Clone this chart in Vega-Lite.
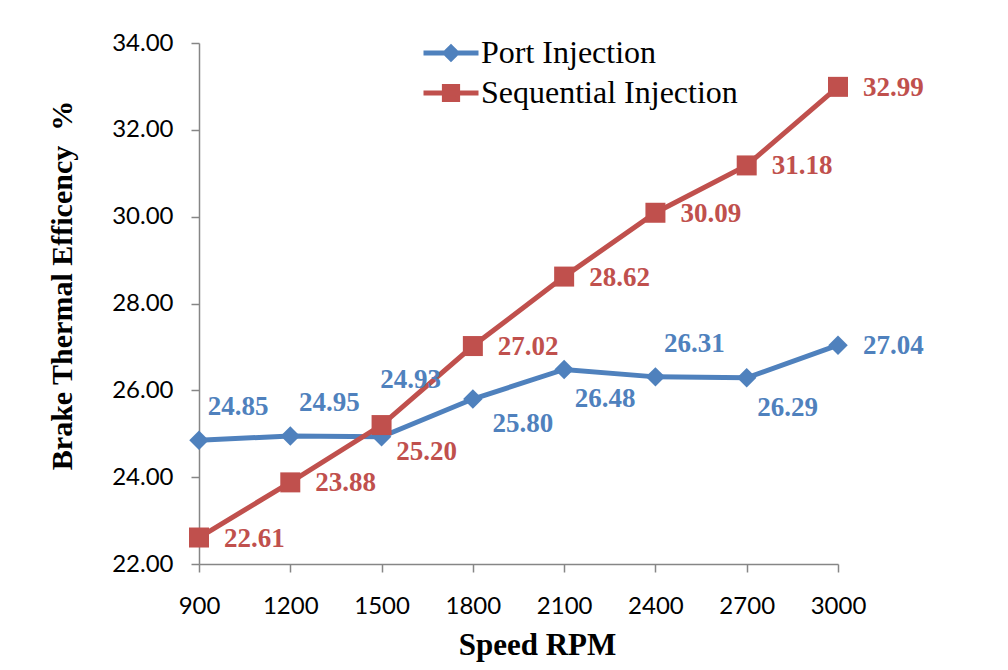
{
  "$schema": "https://vega.github.io/schema/vega-lite/v6.json",
  "width": 639,
  "height": 521,
  "autosize": {"type": "none"},
  "padding": {"left": 199, "top": 43, "right": 170, "bottom": 106},
  "background": "white",
  "config": {
    "view": {"stroke": null},
    "axis": {
      "domainColor": "#868686",
      "tickColor": "#868686",
      "domainWidth": 1.5,
      "tickWidth": 1.5,
      "tickSize": 8,
      "grid": false,
      "labelFont": "Lato",
      "labelFontSize": 24,
      "labelColor": "#000000",
      "labelFlush": false,
      "labelOverlap": false,
      "titleFont": "Liberation Serif",
      "titleFontWeight": "bold",
      "titleColor": "#000000"
    }
  },
  "data": {
    "values": [
      {"rpm": 900, "series": "Port Injection", "bte": 24.85},
      {"rpm": 1200, "series": "Port Injection", "bte": 24.95},
      {"rpm": 1500, "series": "Port Injection", "bte": 24.93},
      {"rpm": 1800, "series": "Port Injection", "bte": 25.80},
      {"rpm": 2100, "series": "Port Injection", "bte": 26.48},
      {"rpm": 2400, "series": "Port Injection", "bte": 26.31},
      {"rpm": 2700, "series": "Port Injection", "bte": 26.29},
      {"rpm": 3000, "series": "Port Injection", "bte": 27.04},
      {"rpm": 900, "series": "Sequential Injection", "bte": 22.61},
      {"rpm": 1200, "series": "Sequential Injection", "bte": 23.88},
      {"rpm": 1500, "series": "Sequential Injection", "bte": 25.20},
      {"rpm": 1800, "series": "Sequential Injection", "bte": 27.02},
      {"rpm": 2100, "series": "Sequential Injection", "bte": 28.62},
      {"rpm": 2400, "series": "Sequential Injection", "bte": 30.09},
      {"rpm": 2700, "series": "Sequential Injection", "bte": 31.18},
      {"rpm": 3000, "series": "Sequential Injection", "bte": 32.99}
    ]
  },
  "encoding": {
    "x": {
      "field": "rpm",
      "type": "quantitative",
      "scale": {"domain": [900, 3000], "nice": false, "zero": false},
      "axis": {
        "values": [900, 1200, 1500, 1800, 2100, 2400, 2700, 3000],
        "format": "d",
        "labelPadding": 22,
        "title": "Speed RPM",
        "titleFontSize": 31,
        "titleX": 338,
        "titleY": 81,
        "titleAnchor": null,
        "titleAlign": "center",
        "titleBaseline": "middle"
      }
    },
    "y": {
      "field": "bte",
      "type": "quantitative",
      "scale": {"domain": [22, 34], "nice": false, "zero": false},
      "axis": {
        "values": [22, 24, 26, 28, 30, 32, 34],
        "format": ".2f",
        "labelPadding": 18,
        "title": "Brake Thermal Efficency\u00a0 %",
        "titleFontSize": 30,
        "titleX": -137,
        "titleY": 242,
        "titleAngle": -90,
        "titleAlign": "center",
        "titleBaseline": "middle"
      }
    },
    "color": {
      "field": "series",
      "type": "nominal",
      "scale": {"domain": ["Port Injection", "Sequential Injection"], "range": ["#4F81BD", "#C0504D"]}
    }
  },
  "layer": [
    {
      "mark": {"type": "line", "strokeWidth": 5},
      "encoding": {
        "color": {
          "field": "series",
          "type": "nominal",
          "legend": {
            "orient": "none",
            "legendX": 236,
            "legendY": -6,
            "title": null,
            "padding": 0,
            "symbolSize": 400,
            "symbolStrokeWidth": 5,
            "labelFont": "Liberation Serif",
            "labelFontSize": 32,
            "labelColor": "#000000",
            "labelOffset": 14,
            "rowPadding": 7,
            "labelLimit": 400,
            "encode": {
              "symbols": {
                "update": {
                  "shape": {"signal": "datum.value === 'Port Injection' ? 'M-2.75,0H2.75M0,-0.58L0.58,0L0,0.58L-0.58,0Z' : 'M-2.75,0H2.75M-0.66,-0.66H0.66V0.66H-0.66Z'"},
                  "fill": {"signal": "scale('color', datum.value)"},
                  "stroke": {"signal": "scale('color', datum.value)"},
                  "strokeWidth": {"value": 5},
                  "opacity": {"value": 1}
                }
              }
            }
          }
        }
      }
    },
    {
      "transform": [{"filter": "datum.series === 'Port Injection'"}],
      "mark": {"type": "point", "filled": true, "opacity": 1, "shape": "diamond", "size": 380}
    },
    {
      "transform": [{"filter": "datum.series === 'Sequential Injection'"}],
      "mark": {"type": "point", "filled": true, "opacity": 1, "shape": "square", "size": 400}
    },
    {
      "transform": [{"filter": "datum.series === 'Port Injection' && (datum.rpm === 900 || datum.rpm === 1200 || datum.rpm === 2400)"}],
      "mark": {"type": "text", "font": "Liberation Serif", "fontWeight": "bold", "fontSize": 27, "align": "center", "baseline": "middle", "dx": 39, "dy": -33},
      "encoding": {"text": {"field": "bte", "type": "quantitative", "format": ".2f"}}
    },
    {
      "transform": [{"filter": "datum.series === 'Port Injection' && datum.rpm === 1500"}],
      "mark": {"type": "text", "font": "Liberation Serif", "fontWeight": "bold", "fontSize": 27, "align": "center", "baseline": "middle", "dx": 29, "dy": -57},
      "encoding": {"text": {"field": "bte", "type": "quantitative", "format": ".2f"}}
    },
    {
      "transform": [{"filter": "datum.series === 'Port Injection' && datum.rpm === 1800"}],
      "mark": {"type": "text", "font": "Liberation Serif", "fontWeight": "bold", "fontSize": 27, "align": "center", "baseline": "middle", "dx": 50, "dy": 25},
      "encoding": {"text": {"field": "bte", "type": "quantitative", "format": ".2f"}}
    },
    {
      "transform": [{"filter": "datum.series === 'Port Injection' && (datum.rpm === 2100 || datum.rpm === 2700)"}],
      "mark": {"type": "text", "font": "Liberation Serif", "fontWeight": "bold", "fontSize": 27, "align": "center", "baseline": "middle", "dx": 41, "dy": 30},
      "encoding": {"text": {"field": "bte", "type": "quantitative", "format": ".2f"}}
    },
    {
      "transform": [{"filter": "(datum.series === 'Port Injection' && datum.rpm === 3000) || (datum.series === 'Sequential Injection' && datum.rpm !== 1500)"}],
      "mark": {"type": "text", "font": "Liberation Serif", "fontWeight": "bold", "fontSize": 27, "align": "left", "baseline": "middle", "dx": 25, "dy": 1},
      "encoding": {"text": {"field": "bte", "type": "quantitative", "format": ".2f"}}
    },
    {
      "transform": [{"filter": "datum.series === 'Sequential Injection' && datum.rpm === 1500"}],
      "mark": {"type": "text", "font": "Liberation Serif", "fontWeight": "bold", "fontSize": 27, "align": "center", "baseline": "middle", "dx": 45, "dy": 27},
      "encoding": {"text": {"field": "bte", "type": "quantitative", "format": ".2f"}}
    }
  ]
}
